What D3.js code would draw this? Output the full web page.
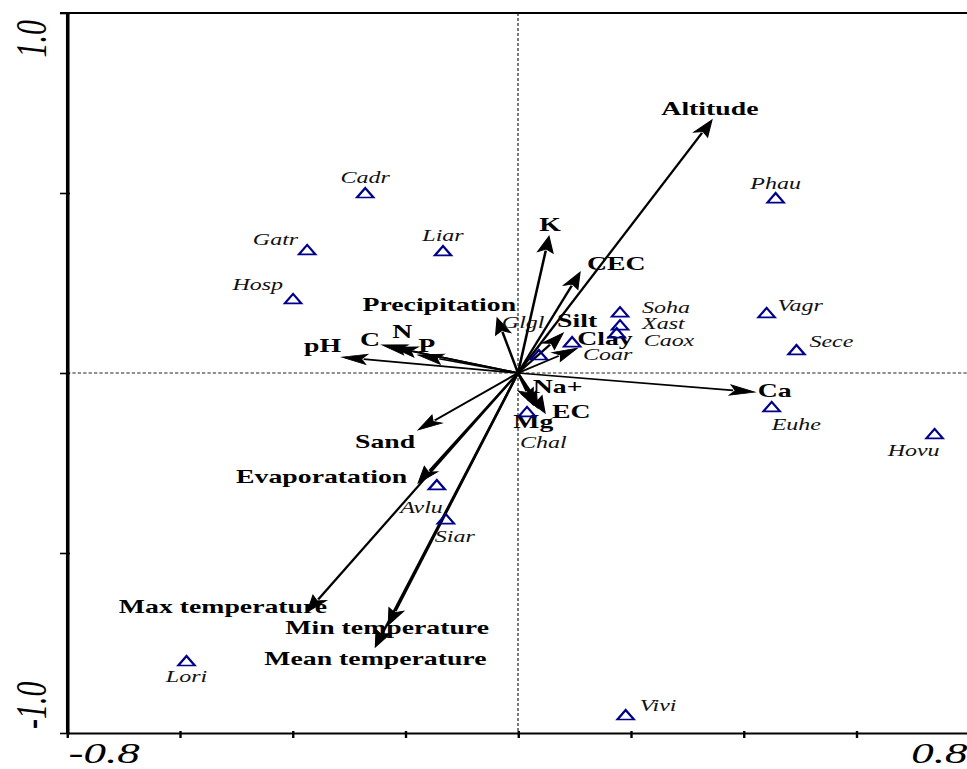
<!DOCTYPE html>
<html>
<head>
<meta charset="utf-8">
<script src="https://cdn.jsdelivr.net/npm/d3@7"></script>
<style>
body { margin: 0; background: #fff; }
svg { display: block; }
</style>
</head>
<body>
<div id="chart-area"></div>
<script>
// environmental variables (arrow tips)
var envNames = ["Altitude", "K", "CEC", "Precipitation", "Silt", "Clay", "pH", "C", "N", "P",
  "Sand", "Mg", "Na+", "EC", "Ca", "Evaporatation", "Max temperature", "Min temperature", "Mean temperature"]
var envX = [0.344, 0.055, 0.110, -0.037, 0.080, 0.105, -0.312, -0.241, -0.223, -0.177,
  -0.177, 0.027, 0.035, 0.048, 0.420, -0.177, -0.374, -0.230, -0.253]
var envY = [0.703, 0.380, 0.280, 0.153, 0.111, 0.069, 0.044, 0.078, 0.072, 0.050,
  -0.158, -0.089, -0.097, -0.111, -0.053, -0.306, -0.664, -0.700, -0.761]

// species scores
var spNames = ["Cadr", "Gatr", "Liar", "Hosp", "Phau", "Soha", "Xast", "Caox", "Vagr", "Sece",
  "Glgl", "Coar", "Chal", "Euhe", "Hovu", "Avlu", "Siar", "Lori", "Vivi"]
var spX = [-0.271, -0.374, -0.133, -0.399, 0.457, 0.181, 0.181, 0.175, 0.441, 0.494,
  0.037, 0.096, 0.016, 0.450, 0.739, -0.144, -0.128, -0.588, 0.191]
var spY = [0.500, 0.342, 0.339, 0.206, 0.486, 0.169, 0.133, 0.111, 0.167, 0.064,
  0.050, 0.086, -0.108, -0.094, -0.169, -0.311, -0.406, -0.800, -0.950]

var xTicks = [-0.8, -0.6, -0.4, -0.2, 0, 0.2, 0.4, 0.6, 0.8]
var yTicks = [-1.0, -0.5, 0, 0.5, 1.0]
var xTickLabels = ["-0.8", "0.8"]
var yTickLabels = ["-1.0", "1.0"]

// label placement: [anchor, dx (px), dy (px)] relative to the mark
var envLab = {
  "Altitude": ["middle", -2, -5], "K": ["middle", 1, -5], "CEC": ["start", 7, -2],
  "Precipitation": ["end", 19, -7], "Silt": ["start", -6, -6], "Clay": ["start", 0, -3],
  "pH": ["end", -1, -5], "C": ["end", -2, 1], "N": ["start", 0, -9], "P": ["start", 0, -3],
  "Sand": ["end", -3, 18], "Mg": ["start", -20, 23], "Na+": ["start", -5, -15],
  "EC": ["start", 7, 5], "Ca": ["start", 3, 5], "Evaporatation": ["end", -11, 0],
  "Max temperature": ["end", 20, 1], "Min temperature": ["start", -103, 9],
  "Mean temperature": ["start", -111, 18]
}
var spLab = {
  "Cadr": ["middle", 0, -10], "Gatr": ["end", -9, -5], "Liar": ["middle", 0, -10],
  "Hosp": ["end", -10, -9], "Phau": ["middle", 0, -9], "Soha": ["start", 22, 1],
  "Xast": ["start", 22, 4], "Caox": ["start", 27, 13], "Vagr": ["start", 11, -2],
  "Sece": ["start", 13, -3], "Glgl": ["start", -37, -27], "Coar": ["start", 11, 18],
  "Chal": ["start", -7, 36], "Euhe": ["start", 0, 23], "Hovu": ["middle", -21, 22],
  "Avlu": ["end", 6, 28], "Siar": ["start", -11, 23], "Lori": ["middle", 0, 21],
  "Vivi": ["start", 14, -4]
}

var W = 967, H = 769
var SX = 1.5   // the picture is stretched sideways
var serif = "'Liberation Serif', 'Times New Roman', serif"

var svg = d3.select("#chart-area").append("svg")
  .attr("width", W).attr("height", H)

var g = svg.append("g").attr("transform", "scale(" + SX + ",1)")

var x = d3.scaleLinear().domain([-0.8, 0.8]).range([67 / SX, 969 / SX])
var y = d3.scaleLinear().domain([-1, 1]).range([733, 13])

// zero lines
g.append("line")
  .attr("x1", x(-0.8)).attr("x2", W / SX)
  .attr("y1", y(0)).attr("y2", y(0))
  .attr("stroke", "#222").attr("stroke-width", 0.9)
  .attr("stroke-dasharray", "2.2,1.4")
g.append("line")
  .attr("x1", x(0)).attr("x2", x(0))
  .attr("y1", y(1)).attr("y2", y(-1))
  .attr("stroke", "#222").attr("stroke-width", 0.8)
  .attr("stroke-dasharray", "3,2")

// axes
var leftAxis = d3.axisLeft(y).tickValues(yTicks).tickSizeOuter(0).tickFormat("")
var la = g.append("g").attr("class", "left axis")
  .attr("transform", "translate(" + x(-0.8) + ",0)")
  .call(leftAxis)
la.selectAll(".tick line").attr("x1", 2).attr("x2", -4.7).attr("stroke-width", 1.6)
la.select(".domain").attr("stroke-width", 2.4)

var bottomAxis = d3.axisBottom(x).tickValues(xTicks).tickSizeOuter(0).tickFormat("")
var ba = g.append("g").attr("class", "bottom axis")
  .attr("transform", "translate(0," + y(-1) + ")")
  .call(bottomAxis)
ba.selectAll(".tick line").attr("y1", -2).attr("y2", 5).attr("stroke-width", 1.6)
ba.select(".domain").attr("stroke-width", 2)
ba.append("line").attr("x1", x(0.8)).attr("x2", W / SX).attr("y1", 0).attr("y2", 0)
  .attr("stroke", "#000").attr("stroke-width", 2)

// top frame line
g.append("line")
  .attr("x1", x(-0.8) - 4.7).attr("x2", W / SX)
  .attr("y1", y(1)).attr("y2", y(1))
  .attr("stroke", "#000").attr("stroke-width", 2)

// tick labels
g.append("text").attr("x", x(-0.8) + 1).attr("y", 763)
  .attr("text-anchor", "start").text(xTickLabels[0])
g.append("text").attr("x", x(0.8) - 1).attr("y", 763)
  .attr("text-anchor", "end").text(xTickLabels[1])
g.append("text")
  .attr("transform", "translate(" + (46 / SX) + "," + (y(-1) - 4) + ") rotate(-90)")
  .attr("text-anchor", "start").text(yTickLabels[0])
g.append("text")
  .attr("transform", "translate(" + (46 / SX) + "," + (y(1) + 7) + ") rotate(-90)")
  .attr("text-anchor", "end").text(yTickLabels[1])
g.selectAll("text")
  .attr("font-family", serif).attr("font-style", "italic").attr("font-size", "30px")

// arrows
var L = 16.5, HW = 5.2
var envData = envNames.map(function (d, i) { return {name: d, vx: envX[i], vy: envY[i]} })
var arrows = g.selectAll(".arrow").data(envData).enter().append("g").attr("class", "arrow")
arrows.each(function (d) {
  var x0 = x(0), y0 = y(0), x1 = x(d.vx), y1 = y(d.vy)
  var len = Math.hypot(x1 - x0, y1 - y0)
  var ux = (x1 - x0) / len, uy = (y1 - y0) / len
  var bx = x1 - ux * L, by = y1 - uy * L
  var sel = d3.select(this)
  sel.append("line")
    .attr("x1", x0).attr("y1", y0).attr("x2", bx + ux * 2).attr("y2", by + uy * 2)
    .attr("stroke", "#000").attr("stroke-width", 1.7)
  sel.append("polygon")
    .attr("points", [[x1, y1], [bx - uy * HW, by + ux * HW], [bx + ux * 3.5, by + uy * 3.5], [bx + uy * HW, by - ux * HW]].join(" "))
    .attr("fill", "#000").attr("stroke", "#000").attr("stroke-width", 0.8)
})

// env labels
g.selectAll(".envlab").data(envData).enter().append("text")
  .attr("class", "envlab")
  .attr("x", function (d) { return x(d.vx) + envLab[d.name][1] / SX })
  .attr("y", function (d) { return y(d.vy) + envLab[d.name][2] })
  .attr("text-anchor", function (d) { return envLab[d.name][0] })
  .attr("font-family", serif).attr("font-weight", "bold").attr("font-size", "18.5px")
  .attr("fill", "#000")
  .text(function (d) { return d.name })

// species
var spData = spNames.map(function (d, i) { return {name: d, vx: spX[i], vy: spY[i]} })
g.selectAll(".sp").data(spData).enter().append("polygon")
  .attr("class", "sp")
  .attr("points", function (d) {
    var cx = x(d.vx), cy = y(d.vy)
    return [[cx - 5.5, cy + 4.5], [cx + 5.5, cy + 4.5], [cx, cy - 5]].join(" ")
  })
  .attr("fill", "none").attr("stroke", "#00008b").attr("stroke-width", 1.7)

g.selectAll(".splab").data(spData).enter().append("text")
  .attr("class", "splab")
  .attr("x", function (d) { return x(d.vx) + spLab[d.name][1] / SX })
  .attr("y", function (d) { return y(d.vy) + spLab[d.name][2] })
  .attr("text-anchor", function (d) { return spLab[d.name][0] })
  .attr("font-family", serif).attr("font-style", "italic").attr("font-size", "16px")
  .attr("fill", "#111")
  .text(function (d) { return d.name })
</script>
</body>
</html>
